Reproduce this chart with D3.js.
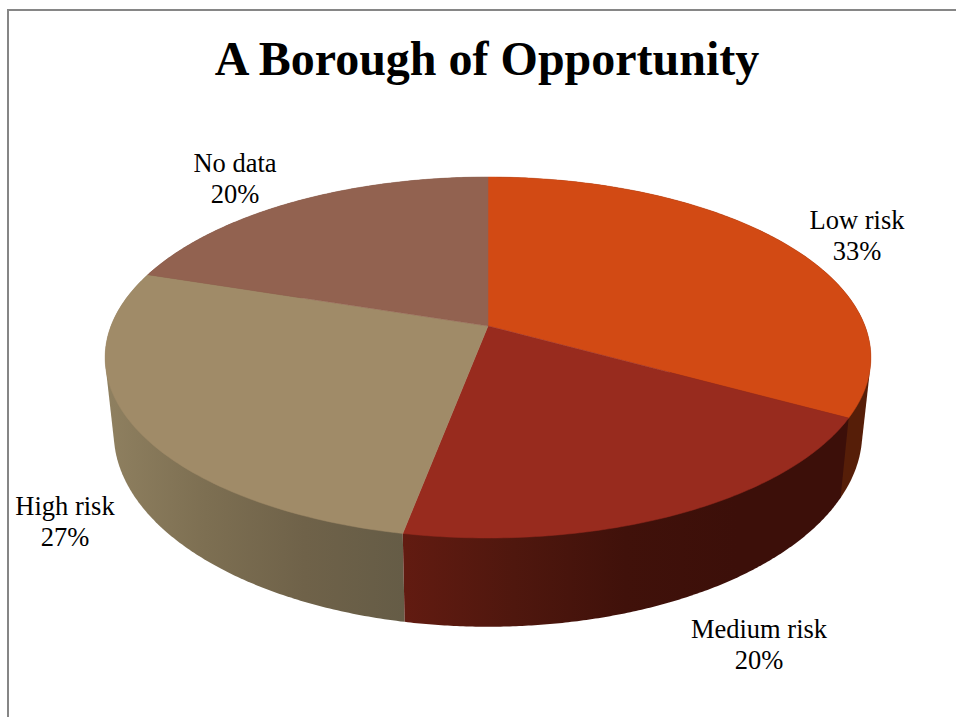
<!DOCTYPE html>
<html>
<head>
<meta charset="utf-8">
<style>
html, body { margin: 0; padding: 0; background: #fff; }
svg { display: block; }
text { font-family: "Liberation Serif", "Times New Roman", serif; fill: #000; }
</style>
<script src="https://cdn.jsdelivr.net/npm/d3@7"></script>
</head>
<body>
<script>
// Chart data
const chartTitle = "A Borough of Opportunity";
const categories = ["Low risk", "Medium risk", "High risk", "No data"];
const shares = [33, 20, 27, 20];

// Slice styling, in category order
const topColors = ["#d24a14", "#982b1e", "#a08b68", "#926250"];
// Wall shading, listed from the left of each wall to its right
const wallColorStops = [
  ["#561e08", "#561e08"],
  ["#621b11", "#4f170e", "#40110a", "#3c0f09", "#3c0f09"],
  ["#8f8060", "#7d6f52", "#6f6249", "#655c46"],
  ["#6a4436", "#6a4436"]
];

// Label centres (x, first line baseline), in category order
const labelAnchors = [[857, 229], [759, 638], [65, 515], [235, 172]];

const width = 956, height = 717;
const svg = d3.select("body").append("svg").attr("width", width).attr("height", height);
const defs = svg.append("defs");

// Chart frame: only the top and left edges fall inside the page
svg.append("path")
  .attr("d", d3.line()([[width, 10], [8, 10], [8, height]]))
  .attr("fill", "none").attr("stroke", "#868686").attr("stroke-width", 2);

// Tilted disc: a circle under a one-point perspective
const pivotX = 488;
const tilt = 0.1745;
const project = a => {
  const w = 1 + tilt * Math.cos(a);
  return [Math.sin(a) / w, -Math.cos(a) / w];
};
const topX = d3.scaleLinear().domain([-1, 1]).range([pivotX - 377, pivotX + 377]);
const topY = d3.scaleLinear().domain([-1, 1]).range([326 - 175, 326 + 175]);
const baseX = d3.scaleLinear().domain([-1, 1]).range([pivotX - 368.5, pivotX + 368.5]);
const baseY = d3.scaleLinear().domain([-1, 1]).range([399 - 188, 399 + 188]);

const topPoint = a => { const [x, y] = project(a); return [topX(x), topY(y)]; };
const basePoint = a => { const [x, y] = project(a); return [baseX(x), baseY(y)]; };

const arcs = d3.pie().sort(null)(shares);
const line = d3.line();
const sweep = (arc, n) =>
  d3.range(n + 1).map(k => arc.startAngle + (arc.endAngle - arc.startAngle) * k / n);

// Outer wall of each slice: the hull of its top and base rims, so the sides
// close up along the silhouette. The top faces are painted over the excess.
const wallOrder = [3, 0, 2, 1];
const walls = svg.append("g");
wallOrder.forEach(i => {
  const angles = sweep(arcs[i], 180);
  const front = angles.filter(a => Math.cos(a) < 0.17);
  const xs = d3.extent([...front.map(a => topPoint(a)[0]), ...front.map(a => basePoint(a)[0])]);
  const stops = wallColorStops[i];
  const grad = defs.append("linearGradient")
    .attr("id", "wall" + i)
    .attr("gradientUnits", "userSpaceOnUse")
    .attr("x1", xs[0]).attr("x2", xs[1]).attr("y1", 0).attr("y2", 0);
  stops.forEach((c, k) => grad.append("stop")
    .attr("offset", k / (stops.length - 1))
    .attr("stop-color", c));
  const hull = d3.polygonHull([...angles.map(topPoint), ...angles.map(basePoint)]);
  walls.append("path")
    .attr("d", line(hull) + "Z")
    .attr("fill", `url(#wall${i})`);
});

// Top face of each slice
const sliceOutline = arc =>
  line([[topX(0), topY(0)], ...sweep(arc, 90).map(topPoint)]) + "Z";
svg.append("g").selectAll("path").data(arcs).join("path")
  .attr("d", sliceOutline)
  .attr("fill", (d, i) => topColors[i])
  .attr("stroke", (d, i) => topColors[i])
  .attr("stroke-width", 0.5);

// Title
svg.append("text")
  .attr("x", 487).attr("y", 75)
  .attr("text-anchor", "middle")
  .attr("font-size", 48).attr("font-weight", "bold")
  .text(chartTitle);

// Two-line category labels
const labels = svg.append("g").selectAll("text").data(categories).join("text")
  .attr("text-anchor", "middle")
  .attr("font-size", 26.5);
labels.append("tspan")
  .attr("x", (d, i) => labelAnchors[i][0]).attr("y", (d, i) => labelAnchors[i][1])
  .text(d => d);
labels.append("tspan")
  .attr("x", (d, i) => labelAnchors[i][0]).attr("y", (d, i) => labelAnchors[i][1] + 31)
  .text((d, i) => shares[i] + "%");
</script>
</body>
</html>
